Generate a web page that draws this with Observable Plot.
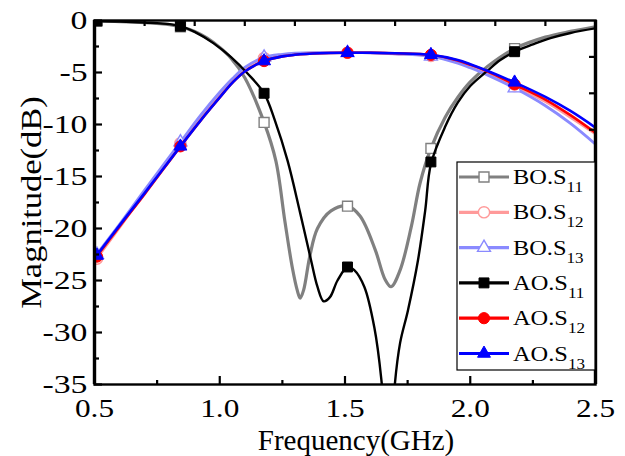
<!DOCTYPE html>
<html><head><meta charset="utf-8">
<script src="https://cdn.jsdelivr.net/npm/d3@7"></script>
<script src="https://cdn.jsdelivr.net/npm/@observablehq/plot@0.6"></script>
<style>
body{margin:0;background:#fff;}
#wrap{position:relative;width:625px;height:456px;}
#wrap svg{position:absolute;left:0;top:0;}
</style></head><body><div id="wrap"></div>
<script>
// ---------- data (frequency GHz, magnitude dB) ----------
const xDomain = [0.5, 2.5];
const yDomain = [-35, 0];
const xMajor = [0.5, 1.0, 1.5, 2.0, 2.5];
const xMinor = [0.75, 1.25, 1.75, 2.25];
const xTop = [0.7, 0.9, 1.1, 1.3, 1.5, 1.7, 1.9, 2.1, 2.3];
const yMajor = [0, -5, -10, -15, -20, -25, -30, -35];
const yMinor = [-2.5, -7.5, -12.5, -17.5, -22.5, -27.5, -32.5];
const yRight = [-3.5, -7, -10.5, -14, -17.5, -21, -24.5, -28, -31.5];

const seriesNames = ["BO.S11", "BO.S12", "BO.S13", "AO.S11", "AO.S12", "AO.S13"];
const seriesBase = ["BO.S", "BO.S", "BO.S", "AO.S", "AO.S", "AO.S"];
const seriesSub = ["11", "12", "13", "11", "12", "13"];

const boS11 = [[0.505,-0.05],[0.6,-0.1],[0.7,-0.2],[0.8,-0.4],[0.843,-0.6],[0.9,-1.05],[0.95,-1.7],[1.0,-2.6],[1.044,-3.6],[1.1,-5.5],[1.177,-9.8],[1.224,-13.5],[1.26,-19.3],[1.29,-23.8],[1.31,-26.0],[1.321,-26.7],[1.335,-25.9],[1.36,-22.6],[1.39,-20.0],[1.444,-18.3],[1.51,-17.85],[1.56,-18.8],[1.62,-22.0],[1.66,-24.9],[1.684,-25.6],[1.72,-24.0],[1.764,-19.9],[1.80,-15.6],[1.843,-12.3],[1.90,-9.3],[1.95,-7.4],[2.0,-5.9],[2.07,-4.4],[2.177,-2.7],[2.3,-1.6],[2.4,-1.05],[2.5,-0.6]];
const aoS11 = [[0.505,-0.05],[0.6,-0.1],[0.7,-0.2],[0.8,-0.35],[0.843,-0.55],[0.9,-1.1],[0.976,-2.2],[1.044,-3.5],[1.111,-5.1],[1.177,-7.0],[1.22,-9.6],[1.271,-13.5],[1.32,-18.4],[1.364,-23.0],[1.39,-25.6],[1.415,-27.0],[1.44,-26.6],[1.47,-25.0],[1.51,-23.7],[1.537,-24.0],[1.577,-25.6],[1.617,-29.5],[1.645,-34.5],[1.665,-41],[1.675,-45],[1.685,-41],[1.697,-35.5],[1.72,-31],[1.751,-27.9],[1.791,-23.1],[1.82,-18.3],[1.843,-13.8],[1.90,-10.2],[1.95,-7.9],[2.0,-6.3],[2.07,-4.8],[2.12,-3.8],[2.177,-3.0],[2.25,-2.3],[2.32,-1.7],[2.4,-1.2],[2.5,-0.75]];
const boS12 = [[0.505,-23.0],[0.6,-19.9],[0.7,-16.5],[0.843,-11.8],[0.924,-9.2],[1.0,-7.0],[1.05,-5.7],[1.1,-4.6],[1.177,-3.6],[1.25,-3.3],[1.3,-3.2],[1.4,-3.1],[1.51,-3.1],[1.6,-3.1],[1.7,-3.2],[1.843,-3.4],[1.95,-4.0],[2.0,-4.4],[2.07,-5.05],[2.177,-6.3],[2.3,-7.8],[2.4,-9.3],[2.5,-10.9]];
const boS13 = [[0.505,-22.6],[0.6,-19.6],[0.7,-16.3],[0.843,-11.7],[0.924,-9.1],[1.0,-6.9],[1.05,-5.6],[1.1,-4.5],[1.177,-3.55],[1.25,-3.25],[1.3,-3.15],[1.4,-3.1],[1.51,-3.1],[1.6,-3.1],[1.7,-3.2],[1.843,-3.45],[1.95,-4.1],[2.0,-4.55],[2.07,-5.25],[2.177,-6.5],[2.3,-8.2],[2.4,-9.9],[2.5,-11.9]];
const aoS12 = [[0.505,-22.8],[0.6,-19.8],[0.7,-16.7],[0.843,-12.1],[0.924,-9.6],[1.0,-7.4],[1.05,-6.0],[1.1,-4.9],[1.177,-3.9],[1.25,-3.45],[1.3,-3.3],[1.4,-3.15],[1.51,-3.1],[1.6,-3.1],[1.7,-3.15],[1.843,-3.3],[1.95,-3.85],[2.0,-4.25],[2.07,-4.9],[2.177,-6.15],[2.3,-7.6],[2.4,-9.1],[2.5,-10.8]];
const aoS13 = [[0.505,-22.7],[0.6,-19.7],[0.7,-16.6],[0.843,-12.1],[0.924,-9.6],[1.0,-7.4],[1.05,-6.0],[1.1,-4.9],[1.177,-3.9],[1.25,-3.45],[1.3,-3.3],[1.4,-3.15],[1.51,-3.1],[1.6,-3.1],[1.7,-3.15],[1.843,-3.3],[1.95,-3.8],[2.0,-4.2],[2.07,-4.85],[2.177,-5.95],[2.3,-7.35],[2.4,-8.7],[2.5,-10.3]];

const markerFreq = [0.51, 0.843, 1.177, 1.51, 1.843, 2.177];
const boS11Mk = [-0.05, -0.6, -9.8, -17.85, -12.3, -2.7];
const boS12Mk = [-22.9, -11.8, -3.6, -3.1, -3.4, -6.3];
const boS13Mk = [-22.5, -11.7, -3.55, -3.1, -3.45, -6.5];
const aoS11Mk = [-0.05, -0.55, -7.0, -23.7, -13.6, -3.0];
const aoS12Mk = [-22.7, -12.1, -3.9, -3.1, -3.3, -6.15];
const aoS13Mk = [-22.6, -12.1, -3.9, -3.1, -3.3, -5.95];

// ---------- styles ----------
const colors = ["#808080", "#ff9a9a", "#8a8aff", "#000000", "#ff0000", "#0000ff"];
const widths = [3.2, 2.8, 2.8, 2.4, 2.6, 2.6];
const symbols = ["square", "circle", "triangle", "square", "circle", "triangle"];
const hollow = [true, true, true, false, false, false];
const radii = [5.6, 5.6, 4.8, 5.6, 5.6, 4.8];

const lines = [boS11, boS12, boS13, aoS11, aoS12, aoS13];
const marks = [boS11Mk, boS12Mk, boS13Mk, aoS11Mk, aoS12Mk, aoS13Mk];

const W = 625, H = 456, mL = 94, mR = 30, mT = 20, mB = 72;
const fw = W - mL - mR, fh = H - mT - mB;
const serif = "Liberation Serif, Times New Roman, serif";

const seriesMarks = [];
lines.forEach((data, i) => {
  seriesMarks.push(Plot.line(data, {x: d => d[0], y: d => d[1], stroke: colors[i], strokeWidth: widths[i], curve: "catmull-rom", clip: true}));
  const pts = markerFreq.map((f, j) => ({f, v: marks[i][j]}));
  seriesMarks.push(Plot.dot(pts, {x: "f", y: "v", symbol: () => symbols[i], r: radii[i],
    fill: hollow[i] ? "white" : colors[i], stroke: colors[i], strokeWidth: hollow[i] ? 1.4 : 1, clip: true}));
});

const chart = Plot.plot({
  width: W, height: H,
  marginLeft: mL, marginRight: mR, marginTop: mT, marginBottom: mB,
  style: {fontFamily: serif, fontSize: "25px", color: "#000", background: "white"},
  x: {domain: xDomain, label: null},
  y: {domain: yDomain, label: null},
  symbol: {type: "identity"},
  marks: [
    ...seriesMarks,
    Plot.frame({stroke: "black", strokeWidth: 2.4}),
    Plot.ruleX(xDomain, {stroke: "black", strokeWidth: 3.4}),
    Plot.tickX(xMajor, {x: d => d, insetTop: fh - 8, stroke: "black", strokeWidth: 2.2}),
    Plot.tickX(xMinor, {x: d => d, insetTop: fh - 4, stroke: "black", strokeWidth: 2.2}),
    Plot.tickX(xTop, {x: d => d, insetBottom: fh - 6, stroke: "black", strokeWidth: 2.2}),
    Plot.tickY(yMajor, {y: d => d, insetRight: fw - 8, stroke: "black", strokeWidth: 2.2}),
    Plot.tickY(yMinor, {y: d => d, insetRight: fw - 5, stroke: "black", strokeWidth: 2.2}),
    Plot.tickY(yRight, {y: d => d, insetLeft: fw - 6, stroke: "black", strokeWidth: 2.2}),
    Plot.axisX({ticks: xMajor, tickSize: 0, tickPadding: 15, tickFormat: d3.format(".1f"), label: null, fontSize: 25, className: "tlx"}),
    Plot.axisY({ticks: yMajor, tickSize: 0, tickPadding: 7, tickFormat: d => d === 0 ? "0" : "-" + Math.abs(d), label: null, fontSize: 25, className: "tly"}),
    Plot.text(["Frequency(GHz)"], {frameAnchor: "bottom", dx: 11, dy: 56, textAnchor: "middle", lineAnchor: "middle", fontSize: 29, fill: "black", className: "ttlx"}),
    Plot.text(["Magnitude(dB)"], {frameAnchor: "left", dx: -63, rotate: -90, textAnchor: "middle", lineAnchor: "middle", fontSize: 30, fill: "black", className: "ttly"})
  ]
});

const wrap = document.getElementById("wrap");
wrap.appendChild(chart);

// ---------- legend overlay ----------
const lg = d3.select(wrap).append("svg").attr("width", W).attr("height", H).style("pointer-events", "none");
const box = {x: 457, y: 162, w: 138, h: 208};
lg.append("rect").attr("x", box.x).attr("y", box.y).attr("width", box.w).attr("height", box.h)
  .attr("fill", "white").attr("stroke", "black").attr("stroke-width", 1.2);
const sym = {square: d3.symbolSquare, circle: d3.symbolCircle, triangle: d3.symbolTriangle};
seriesNames.forEach((name, i) => {
  const cy = box.y + 15 + i * 35.3;
  lg.append("line").attr("x1", box.x + 2).attr("x2", box.x + 52).attr("y1", cy).attr("y2", cy)
    .attr("stroke", colors[i]).attr("stroke-width", 3.2);
  lg.append("path").attr("d", d3.symbol(sym[symbols[i]], Math.PI * radii[i] * radii[i])())
    .attr("transform", `translate(${box.x + 27},${cy})`)
    .attr("fill", hollow[i] ? "white" : colors[i]).attr("stroke", colors[i]).attr("stroke-width", hollow[i] ? 1.4 : 1);
  const t = lg.append("text").attr("x", box.x + 56).attr("y", cy + 7)
    .attr("font-family", serif).attr("font-size", 20).attr("fill", "black");
  t.append("tspan").text(seriesBase[i]);
  t.append("tspan").attr("font-size", 14).attr("dy", 8).text(seriesSub[i]);
});

// ---------- horizontal glyph widening to match reference typography ----------
function stretch(nodes, k) {
  nodes.forEach(n => {
    const L = n.getComputedTextLength();
    n.setAttribute("textLength", (L * k).toFixed(1));
    n.setAttribute("lengthAdjust", "spacingAndGlyphs");
  });
}
stretch(Array.from(chart.querySelectorAll(".tlx text")), 1.25);
stretch(Array.from(chart.querySelectorAll(".tly text")), 1.35);
stretch(Array.from(chart.querySelectorAll(".ttly text")), 1.15);
stretch(Array.from(lg.node().querySelectorAll("text")), 1.22);
</script></body></html>
